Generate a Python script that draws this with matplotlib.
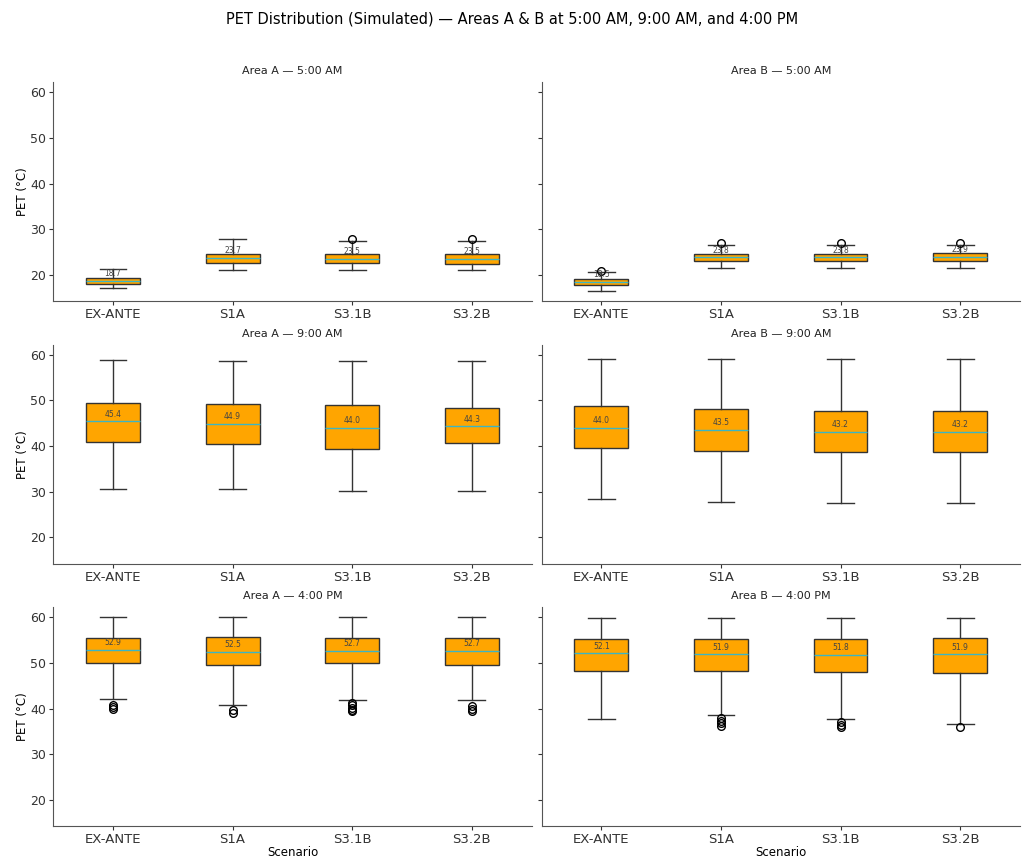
import matplotlib
matplotlib.use("Agg")
import matplotlib.pyplot as plt

scenarios = ["EX-ANTE", "S1A", "S3.1B", "S3.2B"]
areas = ["A", "B"]
times = ["5:00 AM", "9:00 AM", "4:00 PM"]

# Box statistics per (time, area): lists ordered as scenarios
# lower whisker, Q1, median, Q3, upper whisker, outliers
stats = {
    ("5:00 AM", "A"): dict(
        whislo=[17.0, 21.0, 21.0, 21.0],
        q1=[18.0, 22.5, 22.5, 22.4],
        med=[18.7, 23.7, 23.5, 23.5],
        q3=[19.3, 24.6, 24.5, 24.5],
        whishi=[21.2, 27.9, 27.5, 27.5],
        fliers=[[], [], [27.9], [27.9]],
    ),
    ("5:00 AM", "B"): dict(
        whislo=[16.4, 21.4, 21.4, 21.4],
        q1=[17.7, 23.0, 23.0, 23.1],
        med=[18.5, 23.8, 23.8, 23.9],
        q3=[19.0, 24.6, 24.6, 24.8],
        whishi=[20.6, 26.6, 26.6, 26.6],
        fliers=[[20.9], [27.0], [27.0], [27.0]],
    ),
    ("9:00 AM", "A"): dict(
        whislo=[30.6, 30.5, 30.2, 30.2],
        q1=[41.0, 40.4, 39.3, 40.6],
        med=[45.4, 44.9, 44.0, 44.3],
        q3=[49.5, 49.3, 48.9, 48.4],
        whishi=[58.8, 58.6, 58.6, 58.6],
        fliers=[[], [], [], []],
    ),
    ("9:00 AM", "B"): dict(
        whislo=[28.3, 27.8, 27.6, 27.6],
        q1=[39.6, 39.0, 38.8, 38.6],
        med=[44.0, 43.5, 43.2, 43.2],
        q3=[48.8, 48.2, 47.8, 47.7],
        whishi=[59.1, 59.1, 59.1, 59.1],
        fliers=[[], [], [], []],
    ),
    ("4:00 PM", "A"): dict(
        whislo=[42.1, 40.9, 42.0, 42.0],
        q1=[50.0, 49.6, 50.0, 49.6],
        med=[52.9, 52.5, 52.7, 52.7],
        q3=[55.4, 55.6, 55.5, 55.4],
        whishi=[60.0, 60.0, 60.0, 60.0],
        fliers=[[40.8, 40.3, 40.0], [39.6, 39.1],
                [41.2, 40.7, 40.2, 39.8, 39.4], [40.6, 40.0, 39.5]],
    ),
    ("4:00 PM", "B"): dict(
        whislo=[37.8, 38.7, 37.8, 36.7],
        q1=[48.3, 48.3, 48.1, 47.9],
        med=[52.1, 51.9, 51.8, 51.9],
        q3=[55.3, 55.3, 55.3, 55.5],
        whishi=[59.9, 59.9, 59.9, 59.9],
        fliers=[[], [37.9, 37.4, 36.8, 36.2], [37.0, 36.4, 35.9], [35.9]],
    ),
}

box_fill = "#ffa500"
median_color = "#3bb5c4"

fig, axes = plt.subplots(3, 2, figsize=(10.24, 8.58), dpi=100, sharey=True)
fig.subplots_adjust(left=0.052, right=0.996, top=0.904, bottom=0.037,
                    wspace=0.021, hspace=0.2)

for r, t in enumerate(times):
    for c, area in enumerate(areas):
        ax = axes[r, c]
        s = stats[(t, area)]
        bxp_stats = []
        for i, name in enumerate(scenarios):
            bxp_stats.append(dict(
                label=name, whislo=s["whislo"][i], q1=s["q1"][i],
                med=s["med"][i], q3=s["q3"][i], whishi=s["whishi"][i],
                fliers=s["fliers"][i],
            ))
        ax.bxp(bxp_stats, positions=range(1, len(scenarios) + 1),
               widths=0.45, patch_artist=True,
               boxprops=dict(facecolor=box_fill, edgecolor="#333333", linewidth=1.0),
               medianprops=dict(color=median_color, linewidth=1.0),
               whiskerprops=dict(color="#333333", linewidth=1.0),
               capprops=dict(color="#333333", linewidth=1.0),
               flierprops=dict(marker="o", markerfacecolor="none",
                               markeredgecolor="black", markersize=5.5))
        for i, m in enumerate(s["med"]):
            ax.annotate(f"{m:.1f}", xy=(i + 1, m), xytext=(0, 2),
                        textcoords="offset points", ha="center", va="bottom",
                        fontsize=5.5, color="#444444")
        ax.set_title(f"Area {area} — {t}", fontsize=8, color="#222222")
        ax.spines["top"].set_visible(False)
        ax.spines["right"].set_visible(False)
        for sp in ("left", "bottom"):
            ax.spines[sp].set_color("#555555")
        ax.tick_params(axis="x", labelsize=9.5, colors="#333333", pad=2, length=3)
        ax.tick_params(axis="y", labelsize=9, colors="#333333", pad=2, length=3)
        ax.set_yticks([20, 30, 40, 50, 60])
        if c == 0:
            ax.set_ylabel("PET (°C)", fontsize=8.5, labelpad=1)
        if r == 2:
            ax.set_xlabel("Scenario", fontsize=8.5, labelpad=0)

fig.suptitle("PET Distribution (Simulated) — Areas A & B at 5:00 AM, 9:00 AM, and 4:00 PM",
             fontsize=10.5, y=0.987)

fig.savefig("out.png", dpi=100)
